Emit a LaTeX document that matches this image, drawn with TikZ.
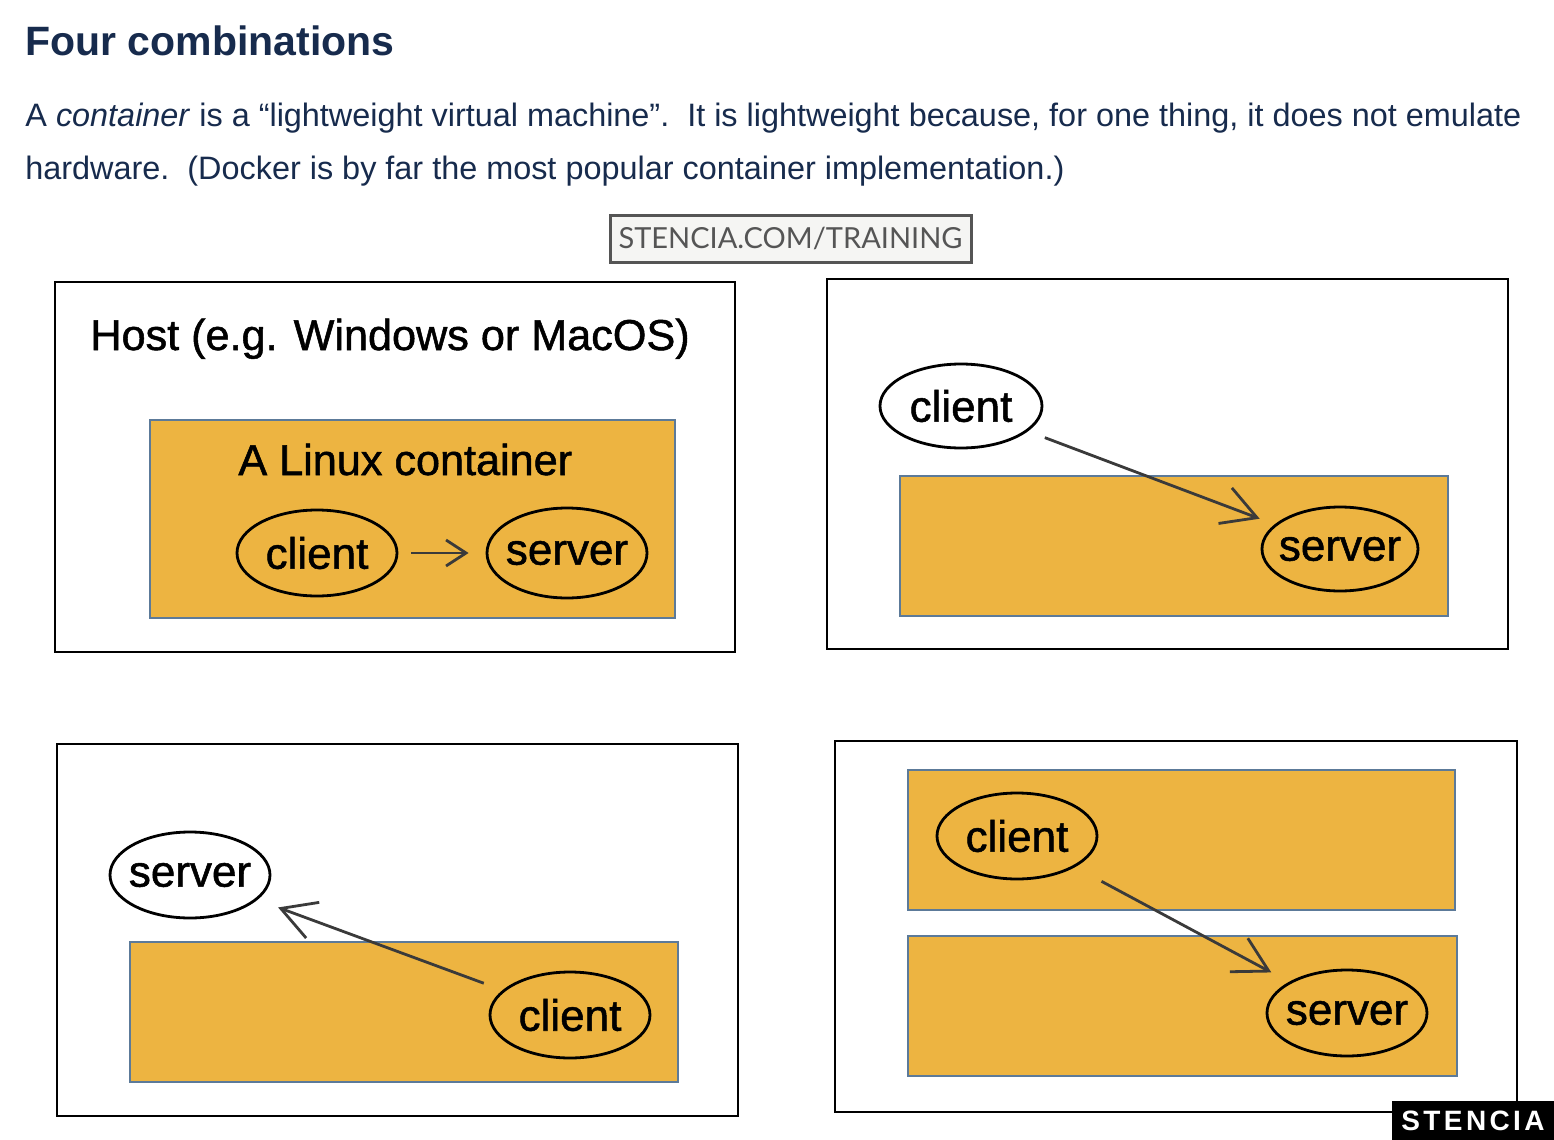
\documentclass[tikz,border=0pt]{standalone}
\usepackage{fontspec}
\setmainfont{Liberation Sans}
\newfontfamily\handfont[FakeBold=1.2]{Liberation Sans}
\newfontfamily\stencilfont{Lato}
\newfontfamily\logofont[LetterSpace=12]{Liberation Sans}
\usetikzlibrary{shapes.geometric,arrows.meta}
\definecolor{navy}{HTML}{172B4D}
\definecolor{boxorange}{HTML}{EDB441}
\definecolor{boxedge}{HTML}{5C7A99}
\definecolor{arrowgrey}{HTML}{3A3A3A}
\definecolor{stgrey}{HTML}{555555}
\definecolor{stbg}{HTML}{F5F5F3}
\begin{document}
\begin{tikzpicture}[x=0.5pt,y=-0.5pt,
  panel/.style={draw=black,line width=1.1pt},
  cbox/.style={draw=boxedge,fill=boxorange,line width=0.9pt},
  ell/.style={ellipse,draw=black,line width=1.4pt,minimum width=80pt,minimum height=43pt,inner sep=0pt,font=\handfont\fontsize{22}{24}\selectfont},
  hand/.style={inner sep=0pt,font=\handfont\fontsize{21.6}{24}\selectfont},
  conn/.style={draw=arrowgrey,line width=1.4pt,-{Straight Barb[length=17pt,width=19pt]}},
  body/.style={anchor=base west,inner sep=0pt,text=navy,font=\fontsize{16.2}{19}\selectfont}
]
\useasboundingbox (0,0) rectangle (1554,1140);
\fill[white] (0,0) rectangle (1554,1140);

% heading and text
\node[anchor=base west,inner sep=0pt,text=navy,font=\bfseries\fontsize{20.5}{24}\selectfont] (title) at (25,55) {Four combinations};
\node[body] (line1) at (25,126) {A \textit{container} is a “lightweight virtual machine”.\ \ It is lightweight because, for one thing, it does not emulate};
\node[body] (line2) at (25,179) {hardware.\ \ (Docker is by far the most popular container implementation.)};

% stencia training banner
\node[draw=stgrey,line width=1.5pt,fill=stbg,text=stgrey,minimum width=180.5pt,minimum height=23.5pt,inner sep=0pt,font=\stencilfont\fontsize{14.5}{16}\selectfont] (banner) at (790.5,238.5) {STENCIA.COM/TRAINING};

% panel 1
\draw[panel] (55,282) rectangle (735,652);
\node[hand,anchor=base west] (host) at (90,350) {Host (e.g. Windows or MacOS)};
\draw[cbox] (150,420) rectangle (675,618);
\node[hand,anchor=base west] (linux) at (238,475) {A Linux container};
\node[ell] (c1) at (317,553) {\makebox[0pt]{client}};
\node[ell,minimum height=45pt] (s1) at (567,553) {\makebox[0pt]{server}};
\draw[conn,-{Straight Barb[length=10pt,width=13pt]},shorten <=6.5pt,shorten >=8.5pt] (c1) -- (s1);

% panel 2
\draw[panel] (827,279) rectangle (1508,649);
\draw[cbox] (900,476) rectangle (1448,616);
\node[ell,fill=white,minimum width=81pt,minimum height=42pt] (c2) at (961,406) {\makebox[0pt]{client}};
\node[ell,minimum width=78pt,minimum height=42pt] (s2) at (1340,549) {\makebox[0pt]{server}};
\draw[conn,shorten <=9pt,shorten >=8pt] (c2) -- (s2);

% panel 3
\draw[panel] (57,744) rectangle (738,1116);
\draw[cbox] (130,942) rectangle (678,1082);
\node[ell,fill=white] (s3) at (190,875) {\makebox[0pt]{server}};
\node[ell] (c3) at (570,1015) {\makebox[0pt]{client}};
\draw[conn,shorten <=10pt,shorten >=11pt] (c3) -- (s3);

% panel 4
\draw[panel] (835,741) rectangle (1517,1112);
\draw[cbox] (908,770) rectangle (1455,910);
\draw[cbox] (908,936) rectangle (1457,1076);
\node[ell] (c4) at (1017,836) {\makebox[0pt]{client}};
\node[ell] (s4) at (1347,1013) {\makebox[0pt]{server}};
\draw[conn,shorten <=15pt,shorten >=10pt] (c4) -- (s4);

% logo
\node[fill=black,text=white,minimum width=81pt,minimum height=19.5pt,inner sep=0pt,font=\logofont\bfseries\fontsize{14}{16}\selectfont] (logo) at (1473,1120.5) {STENCIA};
\end{tikzpicture}
\end{document}
